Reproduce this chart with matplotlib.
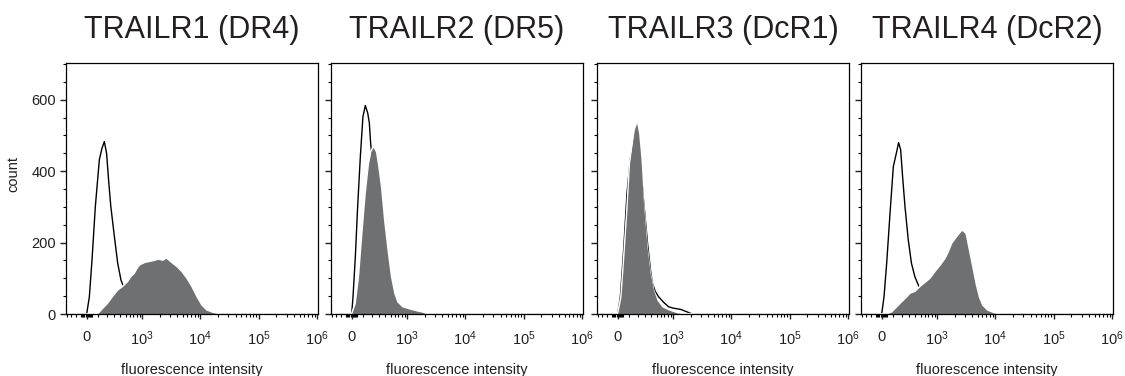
import numpy as np
import matplotlib.pyplot as plt
from matplotlib.ticker import FixedLocator, FixedFormatter

plt.rcParams['font.family'] = ['Liberation Sans', 'DejaVu Sans']
plt.rcParams['mathtext.fontset'] = 'custom'
plt.rcParams['mathtext.rm'] = 'Liberation Sans'
plt.rcParams['mathtext.it'] = 'Liberation Sans:italic'
plt.rcParams['mathtext.bf'] = 'Liberation Sans:bold'

titles = ['TRAILR1 (DR4)', 'TRAILR2 (DR5)', 'TRAILR3 (DcR1)', 'TRAILR4 (DcR2)']

# isotype control (open black line), fluorescence intensity vs count
iso1_x = [-200, 0, 24, 48, 79, 118, 145, 171, 197, 221, 250, 300, 352, 409, 497, 626, 812, 1100, 1000000]
iso1_n = [0, 0, 48, 151, 301, 432, 464, 483, 450, 376, 301, 217, 142, 95, 63, 30, 10, 0, 0]
iso2_x = [-200, 0, 12, 33, 54, 79, 104, 128, 153, 171, 186, 201, 246, 302, 401, 574, 1000, 1000000]
iso2_n = [0, 0, 48, 161, 301, 441, 552, 584, 563, 535, 478, 441, 330, 200, 80, 20, 0, 0]
iso3_x = [-200, 0, 24, 54, 85, 118, 145, 174, 209, 273, 332, 388, 420, 474, 547, 683, 831, 1030, 1340, 1738, 2116, 1000000]
iso3_n = [0, 0, 48, 179, 338, 436, 469, 510, 490, 320, 200, 115, 85, 63, 48, 32, 20, 16, 13, 6, 0, 0]
iso4_x = [-200, 0, 21, 45, 76, 108, 135, 163, 186, 209, 239, 284, 332, 388, 454, 574, 812, 1100, 1000000]
iso4_n = [0, 0, 48, 142, 282, 413, 446, 480, 460, 385, 301, 207, 142, 105, 81, 40, 12, 0, 0]

# receptor staining (grey filled)
st1_x = [-200, 101, 153, 209, 273, 352, 439, 547, 629, 724, 812, 890, 1101, 1340, 1631, 1857, 2262, 2575,
         3136, 3819, 4650, 5664, 6890, 8390, 10215, 12440, 16200, 21080, 1000000]
st1_n = [0, 0, 16, 30, 49, 67, 77, 91, 105, 114, 128, 137, 144, 147, 150, 153, 150, 156,
         144, 133, 119, 100, 77, 49, 25, 11, 4, 0, 0]
st2_x = [-200, 0, 33, 63, 95, 128, 163, 190, 213, 244, 273, 315, 365, 427, 497, 574, 654, 806, 1070, 1394,
         1807, 2175, 1000000]
st2_n = [0, 0, 30, 105, 226, 338, 422, 455, 467, 455, 418, 357, 264, 179, 105, 58, 34, 20, 14, 9, 5, 0, 0]
st3_x = [-200, 0, 30, 54, 85, 111, 135, 160, 186, 209, 239, 273, 324, 377, 439, 509, 629, 831, 1172, 1526, 1000000]
st3_n = [0, 0, 48, 151, 291, 422, 469, 516, 535, 507, 432, 310, 189, 114, 67, 39, 20, 11, 3, 0, 0]
st4_x = [-200, 45, 92, 142, 197, 262, 309, 388, 488, 601, 742, 912, 1127, 1372, 1568, 1786, 2175, 2648,
         3016, 3447, 3927, 4472, 5110, 5822, 7087, 9227, 11950, 1000000]
st4_n = [0, 0, 6, 20, 34, 48, 58, 63, 77, 88, 100, 119, 137, 156, 175, 198, 217, 234,
         226, 179, 133, 86, 48, 25, 11, 3, 0, 0]

iso_x = [iso1_x, iso2_x, iso3_x, iso4_x]
iso_n = [iso1_n, iso2_n, iso3_n, iso4_n]
st_x = [st1_x, st2_x, st3_x, st4_x]
st_n = [st1_n, st2_n, st3_n, st4_n]

xticks = [0, 1e3, 1e4, 1e5, 1e6]
xticklabels = ['0', '$10^3$', '$10^4$', '$10^5$', '$10^6$']

# biexponential-like display (arcsinh)
W = 227.0
def fwd(x):
    return np.arcsinh(np.asarray(x, dtype=float) / W)
def inv(u):
    return W * np.sinh(u)

minor = [-200, -150, -100, -50, -40, -30, -20, -10, 10, 20, 30, 40, 50]
minor += list(range(100, 1000, 100))
for e in [3, 4, 5]:
    minor += [k * 10 ** e for k in range(2, 10)]

txt = '#231f20'
grey = '#6f7072'

fig = plt.figure(figsize=(11.25, 3.76), dpi=100)
lefts = [66, 331, 597, 861]
for i in range(4):
    ax = fig.add_axes([lefts[i] / 1125, 62 / 376, 252 / 1125, 251 / 376])
    ax.set_xscale('function', functions=(fwd, inv))
    ax.plot(iso_x[i], iso_n[i], color='black', lw=1.0, zorder=2)
    ax.plot(st_x[i], st_n[i], color='white', lw=1.3, zorder=3)
    ax.fill_between(st_x[i], st_n[i], 0, color=grey, lw=0, zorder=4)
    ax.set_xlim(-206, 1.03e6)
    ax.set_ylim(0, 703)

    ax.xaxis.set_major_locator(FixedLocator(xticks))
    ax.xaxis.set_major_formatter(FixedFormatter(xticklabels))
    ax.xaxis.set_minor_locator(FixedLocator(minor))
    ax.yaxis.set_major_locator(FixedLocator([0, 200, 400, 600]))
    ax.yaxis.set_minor_locator(FixedLocator(list(range(50, 701, 50))))
    ax.tick_params(axis='x', which='major', length=3.8, width=1.0, pad=7.5, labelsize=10.5, colors=txt)
    ax.tick_params(axis='x', which='minor', length=2.2, width=0.8)
    ax.tick_params(axis='y', which='major', length=4.3, width=1.0, pad=3, labelsize=10.5, colors=txt)
    ax.tick_params(axis='y', which='minor', length=2.2, width=0.8)
    for sp in ax.spines.values():
        sp.set_linewidth(0.9)
        sp.set_zorder(10)

    ax.set_title(titles[i], fontsize=22, pad=18, color=txt)
    ax.set_xlabel('fluorescence intensity', fontsize=10.5, labelpad=10.5, color=txt)
    if i == 0:
        ax.set_ylabel('count', fontsize=10.5, color=txt)
        ax.yaxis.set_label_coords(-0.183, 0.559)
    else:
        ax.set_yticklabels([])

fig.savefig('out.png', dpi=100)
